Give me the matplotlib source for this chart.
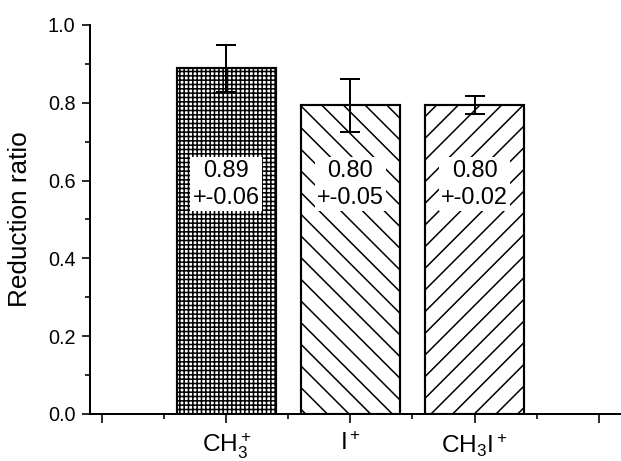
import matplotlib
matplotlib.use("Agg")
import matplotlib.pyplot as plt
from matplotlib.ticker import MultipleLocator

# data
positions = [1, 2, 3]
heights = [0.888, 0.793, 0.793]
errors = [0.06, 0.068, 0.023]
hatches = ['+++++', '\\\\', '//']
box_texts = ['0.89\n+-0.06', '0.80\n+-0.05', '0.80\n+-0.02']
tick_labels = ['', r'$\mathrm{CH_3^+}$', r'$\mathrm{I^+}$', r'$\mathrm{CH_3I^+}$', '']

plt.rcParams['font.family'] = ['Liberation Sans', 'DejaVu Sans']
plt.rcParams['mathtext.fontset'] = 'custom'
plt.rcParams['mathtext.rm'] = 'Liberation Sans'
plt.rcParams['mathtext.it'] = 'Liberation Sans:italic'
plt.rcParams['mathtext.bf'] = 'Liberation Sans:bold'
plt.rcParams['hatch.linewidth'] = 0.85

dpi = 130
fig = plt.figure(figsize=(621 / dpi, 461 / dpi), dpi=dpi)
ax = fig.add_axes([0.145, 0.102, 0.855, 0.844])

for x, h, e, hat, txt in zip(positions, heights, errors, hatches, box_texts):
    ax.bar(x, h, width=0.8, color='white', edgecolor='black', hatch=hat,
           linewidth=1.2, zorder=2)
    ax.errorbar(x, h, yerr=e, fmt='none', ecolor='black', elinewidth=1.1,
                capsize=5.5, capthick=1.1, zorder=3)
    ax.text(x, 0.591, txt, ha='center', va='center', fontsize=13,
            linespacing=1.2, zorder=4,
            bbox=dict(boxstyle='square,pad=0.1', facecolor='white', edgecolor='none'))

ax.set_xlim(-0.097, 4.18)
ax.set_ylim(0, 1.0)
ax.set_xticks(range(5))
ax.set_xticklabels(tick_labels, fontsize=13.5)
ax.xaxis.set_minor_locator(MultipleLocator(0.5))
ax.yaxis.set_major_locator(MultipleLocator(0.2))
ax.yaxis.set_minor_locator(MultipleLocator(0.1))
ax.yaxis.set_major_formatter(matplotlib.ticker.FormatStrFormatter('%.1f'))

ax.spines['top'].set_visible(False)
ax.spines['right'].set_visible(False)
for s in ['left', 'bottom']:
    ax.spines[s].set_linewidth(1.1)

ax.tick_params(axis='y', which='major', direction='out', length=4.5, width=0.9, labelsize=11)
ax.tick_params(axis='y', which='minor', direction='out', length=2.5, width=0.9)
ax.tick_params(axis='x', which='major', direction='out', length=5, width=0.9, pad=5)
ax.tick_params(axis='x', which='minor', direction='out', length=3, width=0.9)

ax.set_ylabel('Reduction ratio', fontsize=14.5, labelpad=9)

fig.savefig('out.png', dpi=dpi)
